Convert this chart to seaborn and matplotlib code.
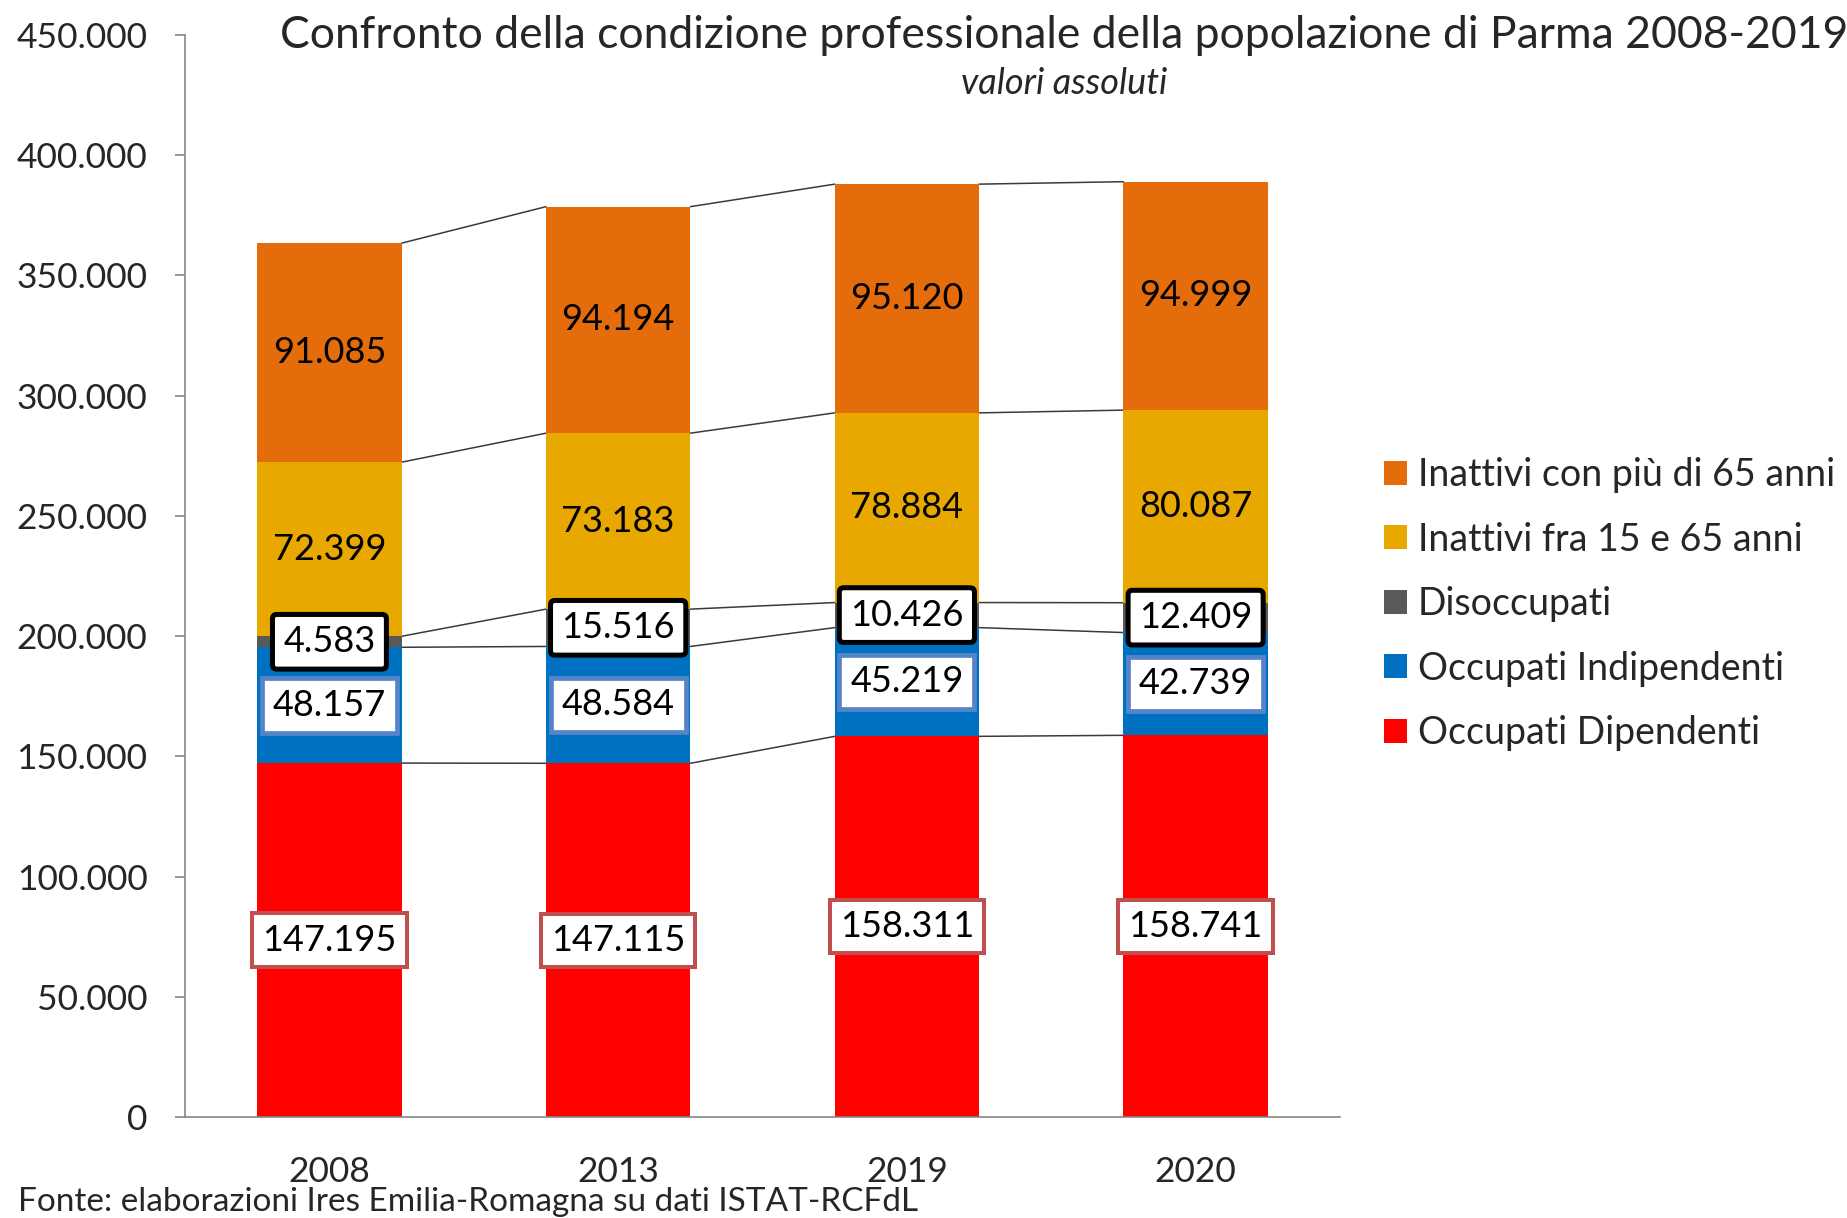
import numpy as np
import pandas as pd
import matplotlib
matplotlib.use("Agg")
import matplotlib.pyplot as plt
import seaborn as sns
from matplotlib.patches import Patch

sns.set_theme(style="white")
plt.rcParams['font.family'] = ['Lato', 'DejaVu Sans']

years = ["2008", "2013", "2019", "2020"]
series_names = ["Occupati Dipendenti", "Occupati Indipendenti", "Disoccupati",
                "Inattivi fra 15 e 65 anni", "Inattivi con più di 65 anni"]
dipendenti = [147195, 147115, 158311, 158741]
indipendenti = [48157, 48584, 45219, 42739]
disoccupati = [4583, 15516, 10426, 12409]
inattivi_15_65 = [72399, 73183, 78884, 80087]
inattivi_65 = [91085, 94194, 95120, 94999]
colors = ["#FF0000", "#0070C0", "#595959", "#E8A800", "#E46C0A"]
y_ticks = [0, 50000, 100000, 150000, 200000, 250000, 300000, 350000, 400000, 450000]
y_tick_labels = ["0", "50.000", "100.000", "150.000", "200.000", "250.000",
                 "300.000", "350.000", "400.000", "450.000"]

series = [dipendenti, indipendenti, disoccupati, inattivi_15_65, inattivi_65]
vals = np.array(series, dtype=float)
cum = np.cumsum(vals, axis=0)

fig = plt.figure(figsize=(18.47, 12.18), dpi=100)
ax = fig.add_axes([0.1002, 0.0829, 0.6253, 0.8884])

# stacked bars via overlapping cumulative bars (largest first)
for k in range(len(series) - 1, -1, -1):
    df = pd.DataFrame({"anno": years, "valore": cum[k]})
    sns.barplot(data=df, x="anno", y="valore", color=colors[k], width=0.5,
                saturation=1, ax=ax, linewidth=0, zorder=2)

# connector (series) lines
for k in range(len(series)):
    for i in range(len(years) - 1):
        ax.plot([i + 0.25, i + 1 - 0.25], [cum[k][i], cum[k][i + 1]],
                color="#3a3a3a", lw=1.1, zorder=1)

fmt = lambda v: f"{int(v):,}".replace(",", ".")
label_fs = 26
for k in range(len(series)):
    for i in range(len(years)):
        yc = cum[k][i] - vals[k][i] / 2
        bbox = None
        if k == 0:
            bbox = dict(boxstyle="square,pad=0.28", fc="white", ec="#C0504D", lw=2.9)
        elif k == 1:
            bbox = dict(boxstyle="square,pad=0.3", fc="white", ec="#5585C8", lw=3.4)
        elif k == 2:
            bbox = dict(boxstyle="round,pad=0.3,rounding_size=0.12", fc="white", ec="black", lw=3.6)
        ax.text(i, yc, fmt(vals[k][i]), ha="center", va="center", fontsize=label_fs,
                color="black", bbox=bbox, zorder=5)

ax.set_xlim(-0.5, 3.5)
ax.set_ylim(0, 450000)
ax.set_yticks(y_ticks)
ax.set_yticklabels(y_tick_labels, fontsize=25.5)
ax.set_xticks(range(len(years)))
ax.set_xticklabels(years, fontsize=25.5)
ax.set_xlabel("")
ax.set_ylabel("")
ax.tick_params(axis="y", which="major", left=True, length=7, width=1.2, color="#868686", pad=20)
ax.tick_params(axis="x", which="major", bottom=False, pad=22)
for s in ["top", "right"]:
    ax.spines[s].set_visible(False)
for s in ["left", "bottom"]:
    ax.spines[s].set_color("#868686")
    ax.spines[s].set_linewidth(1.2)

fig.text(0.576, 1 - 35 / 1218, "Confronto della condizione professionale della popolazione di Parma 2008-2019",
         ha="center", va="center", fontsize=32)
fig.text(0.576, 1 - 83 / 1218, "valori assoluti", ha="center", va="center",
         fontsize=26, style="italic")
fig.text(18 / 1847, 1 - 1202 / 1218, "Fonte: elaborazioni Ires Emilia-Romagna su dati ISTAT-RCFdL",
         ha="left", va="center", fontsize=24)

handles = [Patch(facecolor=colors[k], edgecolor="none", label=series_names[k])
           for k in range(len(series) - 1, -1, -1)]
fig.legend(handles=handles, loc="center left", bbox_to_anchor=(1384 / 1847, 1 - 604 / 1218),
           frameon=False, fontsize=27, handlelength=0.6, handleheight=0.6,
           handletextpad=0.3, labelspacing=0.76, borderaxespad=0, borderpad=0)

fig.savefig("out.png", dpi=100)
